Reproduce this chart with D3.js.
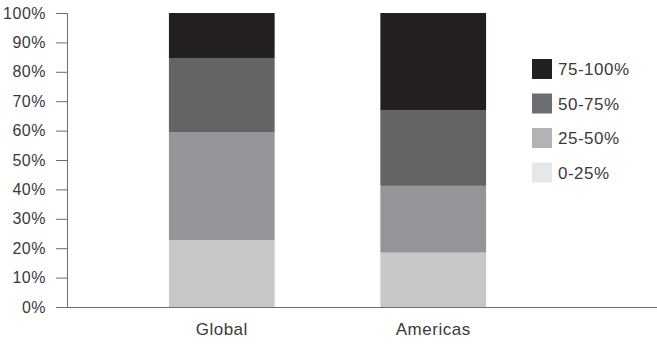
<!DOCTYPE html>
<html>
<head>
<meta charset="utf-8">
<script src="https://cdn.jsdelivr.net/npm/d3@7"></script>
<style>
  html, body { margin: 0; padding: 0; background: #fff; }
  svg { display: block; font-family: "Liberation Sans", Arial, sans-serif; }
</style>
</head>
<body>
<script>
const categories = ["Global", "Americas"];
const seriesKeys = ["0-25%", "25-50%", "50-75%", "75-100%"];
const values_0_25   = [22.8, 18.5];
const values_25_50  = [36.7, 22.7];
const values_50_75  = [25.2, 25.8];
const values_75_100 = [15.3, 33.0];
const barColors    = ["#c7c8ca", "#939598", "#636466", "#231f20"];
const legendColors = ["#e6e7e8", "#b1b3b4", "#6d6e71", "#231f20"];
const yTicks = [0, 10, 20, 30, 40, 50, 60, 70, 80, 90, 100];

const W = 657, H = 347;
const axisX = 67, plotTop = 13, plotBottom = 307;
const textColor = "#3a3a3a";

const rows = categories.map((c, i) => ({
  category: c,
  "0-25%": values_0_25[i],
  "25-50%": values_25_50[i],
  "50-75%": values_50_75[i],
  "75-100%": values_75_100[i]
}));

const series = d3.stack().keys(seriesKeys)(rows);

const svg = d3.select("body").append("svg").attr("width", W).attr("height", H);

const x = d3.scaleBand().domain(categories).range([axisX, 588]).paddingInner(0.5).paddingOuter(0.482);
const y = d3.scaleLinear().domain([0, 100]).range([plotBottom, plotTop]);

// bars
svg.append("g").selectAll("g").data(series).join("g")
  .attr("fill", (d, i) => barColors[i])
  .selectAll("rect").data(d => d).join("rect")
  .attr("x", d => x(d.data.category))
  .attr("width", x.bandwidth())
  .attr("y", d => y(d[1]))
  .attr("height", d => y(d[0]) - y(d[1]));

// y axis
const yAxis = svg.append("g").attr("transform", `translate(${axisX},0)`)
  .call(d3.axisLeft(y).tickValues(yTicks).tickFormat(d => d + "%").tickSize(11).tickPadding(10));
yAxis.select(".domain").attr("stroke", "#6d6e71").attr("d", `M0.5,${y(0)}V${y(100)}`);
yAxis.selectAll(".tick line").attr("stroke", "#6d6e71");
yAxis.selectAll(".tick text").attr("fill", textColor)
  .style("font-size", "16px").style("letter-spacing", "0.5px")
  .style("font-family", "Liberation Sans, Arial, sans-serif");

// baseline
svg.append("line")
  .attr("x1", axisX - 11).attr("x2", W)
  .attr("y1", y(0) + 0.5).attr("y2", y(0) + 0.5)
  .attr("stroke", "#6d6e71").attr("stroke-width", 1.2);

// x labels
svg.append("g").selectAll("text").data(categories).join("text")
  .attr("x", d => x(d) + x.bandwidth() / 2)
  .attr("y", 335)
  .attr("text-anchor", "middle")
  .attr("fill", textColor)
  .style("font-size", "17px").style("letter-spacing", "0.5px")
  .text(d => d);

// legend
const legendOrder = seriesKeys.map((k, i) => ({ key: k, color: legendColors[i] })).reverse();
const lg = svg.append("g").attr("transform", "translate(532,59)");
const item = lg.selectAll("g").data(legendOrder).join("g")
  .attr("transform", (d, i) => `translate(0,${i * 34.5})`);
item.append("rect").attr("width", 20).attr("height", 20).attr("fill", d => d.color);
item.append("text").attr("x", 26).attr("y", 10).attr("dy", "0.36em")
  .attr("fill", textColor).style("font-size", "17px").style("letter-spacing", "0.5px")
  .text(d => d.key);
</script>
</body>
</html>
